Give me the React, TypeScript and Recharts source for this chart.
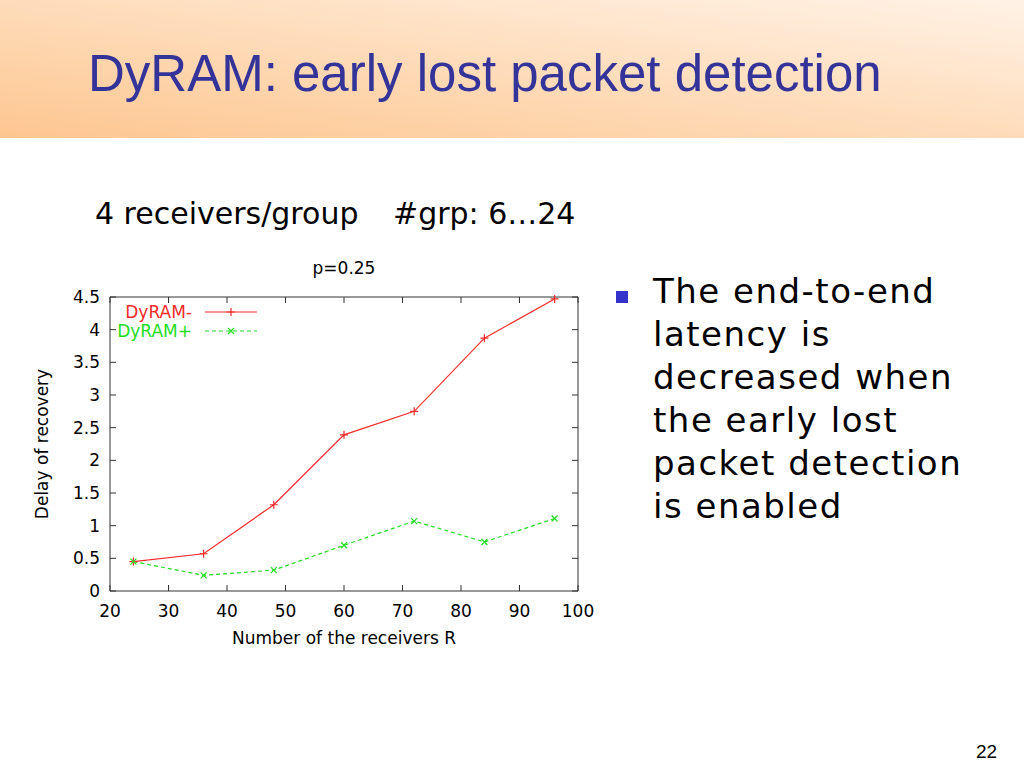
import React from 'react';
import { LineChart, Line, XAxis, YAxis, ReferenceArea, Legend } from 'recharts';

// values
const receivers = [24, 36, 48, 60, 72, 84, 96];
const dyramMinus = [0.45, 0.57, 1.32, 2.39, 2.75, 3.87, 4.47];
const dyramPlus = [0.45, 0.24, 0.32, 0.7, 1.07, 0.75, 1.11];
const xTicks = [20, 30, 40, 50, 60, 70, 80, 90, 100];
const yTicks = [0, 0.5, 1, 1.5, 2, 2.5, 3, 3.5, 4, 4.5];
const seriesNames = ['DyRAM-', 'DyRAM+'];
const bulletLines = [
  'The end-to-end',
  'latency is',
  'decreased when',
  'the early lost',
  'packet detection',
  'is enabled',
];

const data = receivers.map((r, i) => ({ r, minus: dyramMinus[i], plus: dyramPlus[i] }));

const CHART_W = 640;
const CHART_H = 410;
const MARGIN = { top: 47, right: 62, bottom: 13, left: 30 };
const Y_AXIS_W = 80;
const X_AXIS_H = 56;
const PLOT_W = CHART_W - MARGIN.left - MARGIN.right - Y_AXIS_W;
const PLOT_H = CHART_H - MARGIN.top - MARGIN.bottom - X_AXIS_H;

const FRAME = '#333';
const RED = '#f42a2a';
const GREEN = '#22dd22';
const PLOT_FONT = '"DejaVu Sans", sans-serif';
const TICK_LEN = 6;

const XTick = ({ x, y, payload }: any) => {
  const axisY = y - 14;
  return (
    <g>
      <line x1={x} x2={x} y1={axisY} y2={axisY - TICK_LEN} stroke={FRAME} />
      <line x1={x} x2={x} y1={axisY - PLOT_H} y2={axisY - PLOT_H + TICK_LEN} stroke={FRAME} />
      <text x={x} y={y} dy="0.71em" textAnchor="middle" fill="#000" fontSize={17} fontFamily={PLOT_FONT}>
        {payload.value}
      </text>
    </g>
  );
};

const YTick = ({ x, y, payload }: any) => {
  const axisX = x + 10;
  return (
    <g>
      <line x1={axisX} x2={axisX + TICK_LEN} y1={y} y2={y} stroke={FRAME} />
      <line x1={axisX + PLOT_W} x2={axisX + PLOT_W - TICK_LEN} y1={y} y2={y} stroke={FRAME} />
      <text x={x} y={y} dy="0.36em" textAnchor="end" fill="#000" fontSize={17} fontFamily={PLOT_FONT}>
        {payload.value}
      </text>
    </g>
  );
};

const PlusDot = ({ cx, cy, stroke }: any) => (
  <path d={`M${cx - 4},${cy}h8M${cx},${cy - 4}v8`} stroke={stroke} strokeWidth={1.2} fill="none" />
);

const CrossDot = ({ cx, cy, stroke }: any) => (
  <path d={`M${cx - 3},${cy - 3}l6,6M${cx - 3},${cy + 3}l6,-6`} stroke={stroke} strokeWidth={1.2} fill="none" />
);

const renderLegend = ({ payload }: any) => {
  // keep gnuplot's key order: DyRAM- first, DyRAM+ below
  const entries = [...(payload || [])].sort(
    (a: any, b: any) => seriesNames.indexOf(a.value) - seriesNames.indexOf(b.value)
  );
  return (
    <svg width={170} height={40} style={{ display: 'block' }}>
      {entries.map((entry: any, i: number) => {
        const y = 10 + i * 19;
        const mid = 131;
        const isMinus = entry.value === 'DyRAM-';
        return (
          <g key={entry.value}>
            <text x={92} y={y} dy="0.36em" textAnchor="end" fill={entry.color} fontSize={17} fontFamily={PLOT_FONT}>
              {entry.value}
            </text>
            <line
              x1={105}
              x2={157}
              y1={y}
              y2={y}
              stroke={entry.color}
              strokeWidth={1.2}
              strokeDasharray={isMinus ? undefined : '4 3'}
            />
            {isMinus ? (
              <PlusDot cx={mid} cy={y} stroke={entry.color} />
            ) : (
              <CrossDot cx={mid} cy={y} stroke={entry.color} />
            )}
          </g>
        );
      })}
    </svg>
  );
};

const DelayChart = () => (
  <LineChart width={CHART_W} height={CHART_H} data={data} margin={MARGIN}>
    <text x={MARGIN.left + Y_AXIS_W + PLOT_W / 2} y={18} dy="0.36em" textAnchor="middle" fontSize={17} fontFamily={PLOT_FONT} fill="#000">
      p=0.25
    </text>
    <XAxis
      type="number"
      dataKey="r"
      domain={[20, 100]}
      ticks={xTicks}
      interval={0}
      height={X_AXIS_H}
      axisLine={false}
      tickLine={false}
      tickSize={0}
      tickMargin={14}
      tick={<XTick />}
      label={{
        value: 'Number of the receivers R',
        position: 'insideBottom',
        offset: 3,
        fill: '#000',
        fontSize: 17,
        fontFamily: PLOT_FONT,
      }}
    />
    <YAxis
      type="number"
      domain={[0, 4.5]}
      ticks={yTicks}
      interval={0}
      width={Y_AXIS_W}
      axisLine={false}
      tickLine={false}
      tickSize={0}
      tickMargin={10}
      tick={<YTick />}
      label={{
        value: 'Delay of recovery',
        angle: -90,
        position: 'insideLeft',
        offset: 12,
        fill: '#000',
        fontSize: 17,
        fontFamily: PLOT_FONT,
        style: { textAnchor: 'middle' },
      }}
    />
    <ReferenceArea x1={20} x2={100} y1={0} y2={4.5} fill="none" stroke={FRAME} strokeWidth={1} />
    <Legend
      layout="vertical"
      align="center"
      verticalAlign="middle"
      content={renderLegend}
      wrapperStyle={{ left: 100, top: 52, width: 170, height: 40 }}
    />
    <Line
      name="DyRAM-"
      dataKey="minus"
      stroke={RED}
      strokeWidth={1.2}
      dot={(p: any) => <PlusDot key={`m${p.index}`} {...p} />}
      activeDot={false}
      isAnimationActive={false}
    />
    <Line
      name="DyRAM+"
      dataKey="plus"
      stroke={GREEN}
      strokeWidth={1.2}
      strokeDasharray="4 3"
      dot={(p: any) => <CrossDot key={`p${p.index}`} {...p} />}
      activeDot={false}
      isAnimationActive={false}
    />
  </LineChart>
);

export default function App() {
  return (
    <div style={{ position: 'absolute', left: 0, top: 0, width: 1024, height: 768, background: '#fff', overflow: 'hidden' }}>
      <div
        style={{
          position: 'absolute',
          left: 0,
          top: 0,
          width: 1024,
          height: 138,
          background: 'linear-gradient(to bottom left, #fff2e6 0%, #fedcba 50%, #fdc690 100%)',
        }}
      />
      <svg width={1024} height={768} style={{ position: 'absolute', left: 0, top: 0 }}>
        <text x={88} y={91} fontSize={51} fontFamily='"Liberation Sans", Arial, sans-serif' fill="#333399">
          DyRAM: early lost packet detection
        </text>
        <text x={95} y={224} fontSize={30} fontFamily='"DejaVu Sans", sans-serif' fill="#000">
          4 receivers/group
        </text>
        <text x={393} y={224} fontSize={30} fontFamily='"DejaVu Sans", sans-serif' fill="#000">
          #grp: 6…24
        </text>
        <rect x={616} y={291} width={12} height={12} fill="#3333cc" />
        {bulletLines.map((line, i) => (
          <text
            key={line}
            x={653}
            y={303 + i * 43}
            fontSize={34}
            letterSpacing={1.5}
            fontFamily='"DejaVu Sans", sans-serif'
            fill="#000"
          >
            {line}
          </text>
        ))}
        <text x={976} y={758} fontSize={19} fontFamily='"Liberation Sans", Arial, sans-serif' fill="#000">
          22
        </text>
      </svg>
      <div style={{ position: 'absolute', left: 0, top: 250 }}>
        <DelayChart />
      </div>
    </div>
  );
}
